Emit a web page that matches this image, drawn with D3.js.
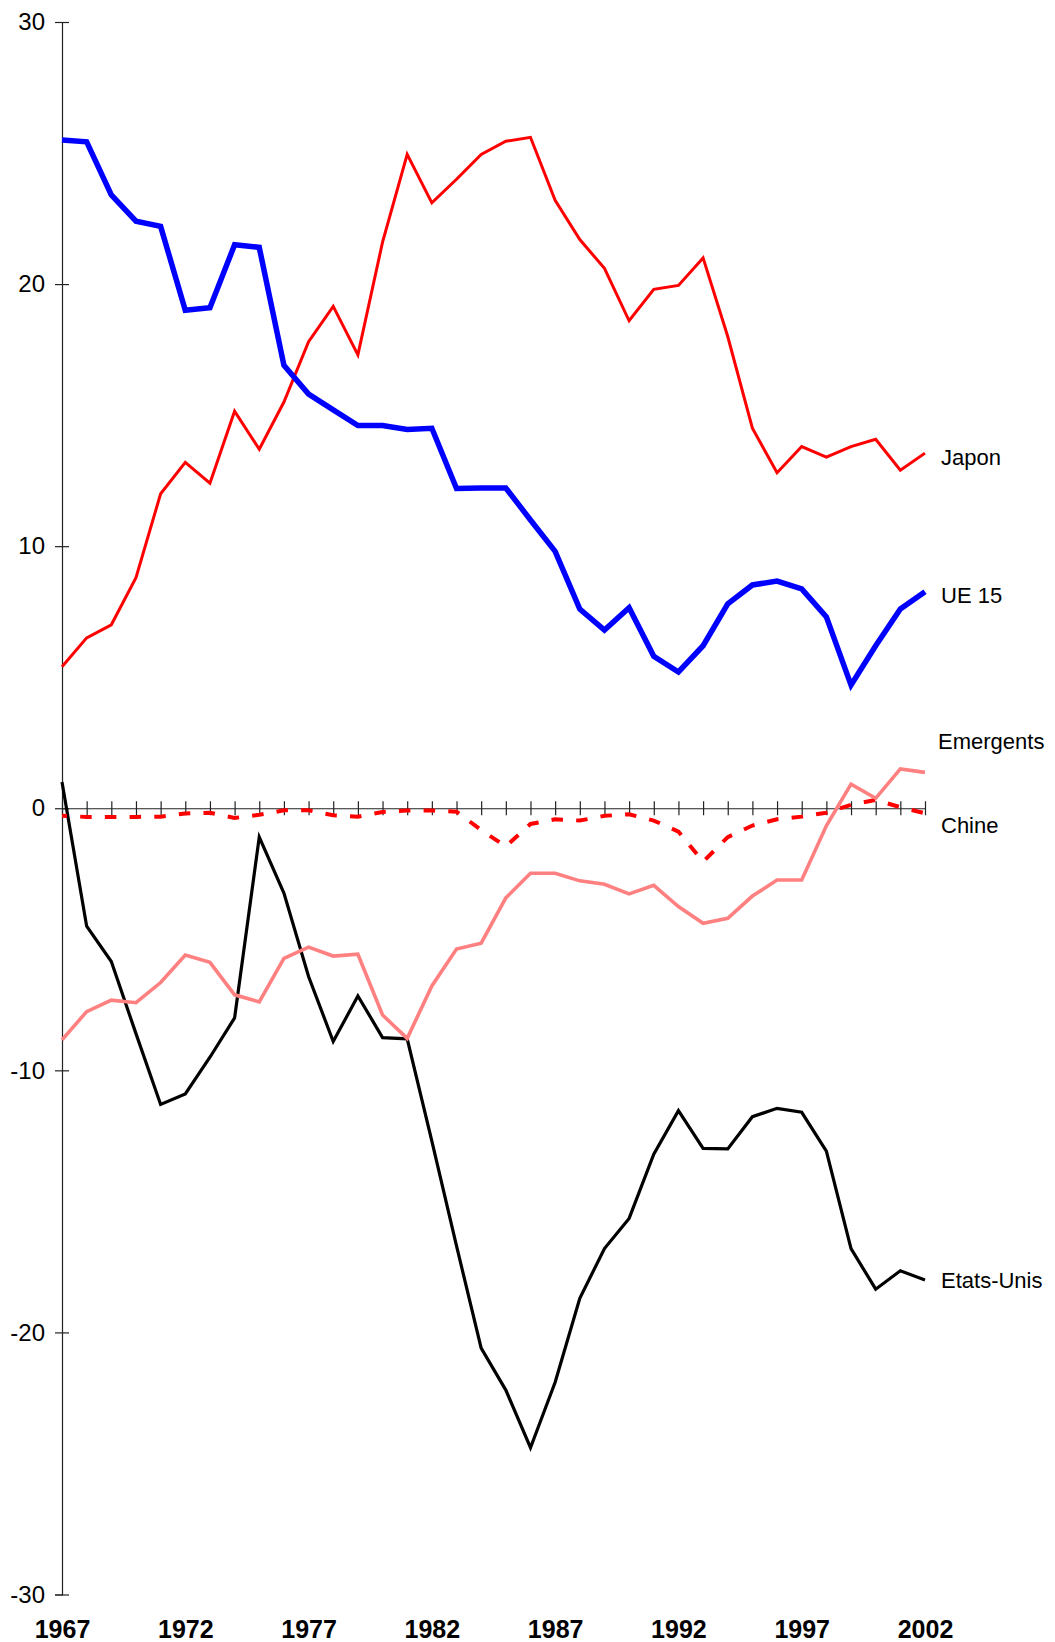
<!DOCTYPE html>
<html>
<head>
<meta charset="utf-8">
<script src="https://cdn.jsdelivr.net/npm/d3@7"></script>
<style>
  body { margin: 0; background: #fff; }
  svg text { font-family: Arial, "Liberation Sans", sans-serif; }
</style>
</head>
<body>
<svg id="chart" width="1055" height="1642"></svg>
<script>
// years on the x axis
var years = d3.range(1967, 2003);
var yearLabels = [1967, 1972, 1977, 1982, 1987, 1992, 1997, 2002];
var yTicks = [-30, -20, -10, 0, 10, 20, 30];

// values
var japon = [5.4, 6.5, 7.0, 8.8, 12.0, 13.2, 12.4, 15.15, 13.7, 15.5, 17.8, 19.15, 17.3, 21.6, 24.95, 23.1, 24.0, 24.95, 25.45, 25.6,
  23.2, 21.7, 20.6, 18.6, 19.8, 19.95, 21.0, 18.0, 14.5, 12.8, 13.8, 13.4, 13.8, 14.08, 12.9, 13.55];
var ue15 = [25.5, 25.43, 23.4, 22.4, 22.2, 19.0, 19.1, 21.5, 21.4, 16.9, 15.8, 15.2, 14.6, 14.6, 14.45, 14.5, 12.2, 12.22, 12.22, 11.0,
  9.8, 7.6, 6.8, 7.65, 5.8, 5.2, 6.2, 7.8, 8.52, 8.67, 8.37, 7.3, 4.7, 6.2, 7.6, 8.26];
var etatsUnis = [1.0, -4.5, -5.85, -8.6, -11.3, -10.9, -9.5, -8.0, -1.1, -3.24, -6.42, -8.9, -7.16, -8.75, -8.8, -12.7, -16.7, -20.6, -22.2, -24.4,
  -21.9, -18.7, -16.8, -15.65, -13.2, -11.54, -12.98, -13.0, -11.77, -11.45, -11.6, -13.08, -16.8, -18.35, -17.65, -18.0];
var emergents = [-8.84, -7.76, -7.32, -7.42, -6.65, -5.6, -5.88, -7.12, -7.39, -5.73, -5.3, -5.64, -5.57, -7.89, -8.78, -6.78, -5.37, -5.15, -3.42, -2.48,
  -2.48, -2.77, -2.9, -3.27, -2.94, -3.75, -4.39, -4.2, -3.35, -2.74, -2.74, -0.67, 0.92, 0.38, 1.5, 1.37];
var chine = [-0.29, -0.33, -0.33, -0.33, -0.32, -0.2, -0.17, -0.37, -0.25, -0.08, -0.08, -0.27, -0.32, -0.14, -0.09, -0.09, -0.13, -0.83, -1.46, -0.6,
  -0.42, -0.47, -0.29, -0.23, -0.47, -0.89, -2.04, -1.1, -0.66, -0.42, -0.32, -0.17, 0.13, 0.32, 0.04, -0.19];

var seriesNames = ["Japon", "UE 15", "Etats-Unis", "Chine", "Emergents"];
var seriesValues = [japon, ue15, etatsUnis, chine, emergents];
var seriesColors = ["#ff0000", "#0000ff", "#000000", "#ff0000", "#ff8080"];
var seriesWidths = [3, 5.5, 3.2, 4, 3.6];
// where each name sits, in y-axis units
var labelValues = [13.38, 8.11, -18.02, -0.66, 2.54];
var labelShift = [16, 16, 16, 16, 13];

var svg = d3.select("#chart");

var x = d3.scaleLinear().domain([1967, 2002]).range([62, 925]);
var y = d3.scaleLinear().domain([-30, 30]).range([1594.5, 22]);

// y axis, ticks cross the line
var yAxis = svg.append("g")
    .attr("transform", "translate(" + x(1967) + ",0)")
    .call(d3.axisLeft(y).tickValues(yTicks).tickSize(7).tickPadding(10).tickFormat(function(d) { return String(d); }));
yAxis.select(".domain").attr("stroke", "#222").attr("stroke-width", 1.2);
yAxis.selectAll(".tick line").attr("x1", -7).attr("x2", 7).attr("stroke", "#222").attr("stroke-width", 1.2);
yAxis.selectAll(".tick text")
    .attr("font-size", "24px")
    .attr("font-family", "Arial, 'Liberation Sans', sans-serif")
    .attr("fill", "#000");

// x axis through zero, a tick every year
var xAxis = svg.append("g")
    .attr("transform", "translate(0," + y(0) + ")")
    .call(d3.axisBottom(x).tickValues(years).tickSize(7).tickSizeOuter(0).tickFormat(""));
xAxis.select(".domain").attr("stroke", "#222").attr("stroke-width", 1.2);
xAxis.selectAll(".tick line").attr("y1", -7).attr("y2", 7).attr("stroke", "#222").attr("stroke-width", 1.2);

// year labels at the bottom
var xLabels = svg.append("g")
    .attr("transform", "translate(0,1638)")
    .call(d3.axisBottom(x).tickValues(yearLabels).tickSize(0).tickFormat(function(d) { return String(d); }));
xLabels.select(".domain").remove();
xLabels.selectAll(".tick text")
    .attr("y", 0)
    .attr("dy", 0)
    .attr("font-size", "25px")
    .attr("font-weight", "bold")
    .attr("font-family", "Arial, 'Liberation Sans', sans-serif")
    .attr("fill", "#000");

var line = d3.line()
    .x(function(d, i) { return x(years[i]); })
    .y(function(d) { return y(d); });

seriesNames.forEach(function(name, k) {
    var path = svg.append("path")
        .datum(seriesValues[k])
        .attr("d", line)
        .attr("fill", "none")
        .attr("stroke", seriesColors[k])
        .attr("stroke-width", seriesWidths[k])
        .attr("stroke-linejoin", "miter");
    if (name === "Chine") {
        path.attr("stroke-dasharray", "11.5,13.2").attr("stroke-dashoffset", 6.5);
    }

    svg.append("text")
        .attr("x", x(2002) + labelShift[k])
        .attr("y", y(labelValues[k]))
        .attr("dy", "0.35em")
        .attr("font-size", "22px")
        .attr("fill", "#000")
        .text(name);
});
</script>
</body>
</html>
